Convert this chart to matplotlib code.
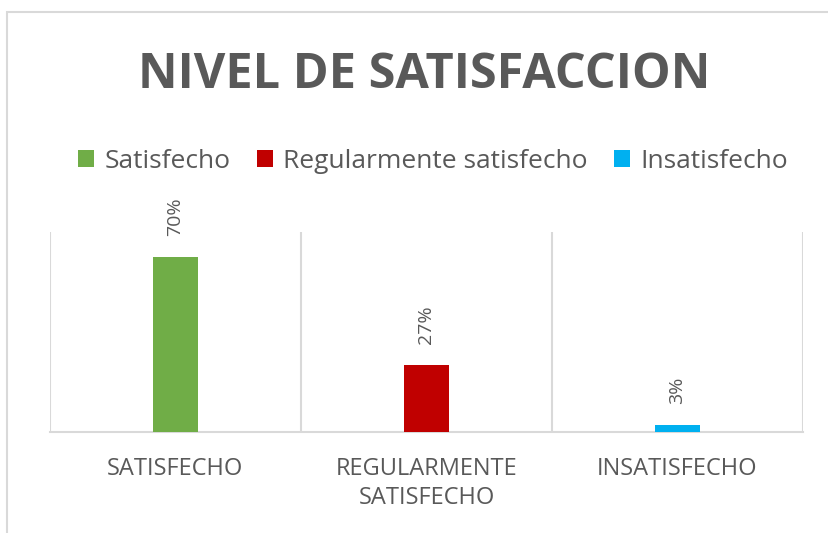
import numpy as np
import matplotlib.pyplot as plt
from matplotlib.patches import Rectangle

# datos
categorias = ["SATISFECHO", "REGULARMENTE\nSATISFECHO", "INSATISFECHO"]
series = ["Satisfecho", "Regularmente satisfecho", "Insatisfecho"]
valores = [0.70, 0.27, 0.03]
etiquetas = ["70%", "27%", "3%"]
colores = ["#70ad47", "#c00000", "#00b0f0"]

GRIS = "#595959"
LINEA = "#d9d9d9"
FUENTE = ["Open Sans", "DejaVu Sans"]

W, H = 829, 533
fig = plt.figure(figsize=(W / 100, H / 100), dpi=100)

# marco exterior del grafico
fig.patches.append(Rectangle((7 / W, -0.1), 1.1, 1 - 12 / H + 0.1,
                             transform=fig.transFigure, fill=False,
                             edgecolor=LINEA, linewidth=1.5))

ax = fig.add_axes([50 / W, 1 - 432 / H, (803 - 50) / W, (432 - 232) / H])

x = np.arange(len(categorias))
ancho = 0.18
for i, (s, v, c) in enumerate(zip(series, valores, colores)):
    ax.bar(x[i], v, width=ancho, color=c, label=s, zorder=3)
    ax.text(x[i], v + 0.084, etiquetas[i], rotation=90, ha="center", va="bottom",
            fontsize=14, color=GRIS, family=FUENTE)

ax.set_xlim(-0.5, len(categorias) - 0.5)
ax.set_ylim(0, 0.8)
ax.set_yticks([])
ax.set_xticks(x)
ax.set_xticklabels(categorias, fontsize=17, color=GRIS, family=FUENTE, linespacing=1.25)
ax.tick_params(axis="x", length=0, pad=18)

for sp in ["top", "right", "left"]:
    ax.spines[sp].set_visible(False)
ax.spines["bottom"].set_color(LINEA)
ax.spines["bottom"].set_linewidth(1.5)
for b in np.arange(-0.5, len(categorias), 1.0):
    ax.axvline(b, color=LINEA, linewidth=1.5, zorder=1)

fig.text(424 / W, 1 - 75 / H, "NIVEL DE SATISFACCION", ha="center", va="center",
         fontsize=35, fontweight="bold", color=GRIS, family=FUENTE)

leg = fig.legend(loc="center", bbox_to_anchor=(433 / W, 1 - 161 / H), ncol=3,
                 frameon=False, handlelength=0.6, handleheight=0.6,
                 handletextpad=0.4, columnspacing=1.0,
                 prop={"family": FUENTE, "size": 19})
for t in leg.get_texts():
    t.set_color(GRIS)

fig.savefig("out.png", dpi=100)
